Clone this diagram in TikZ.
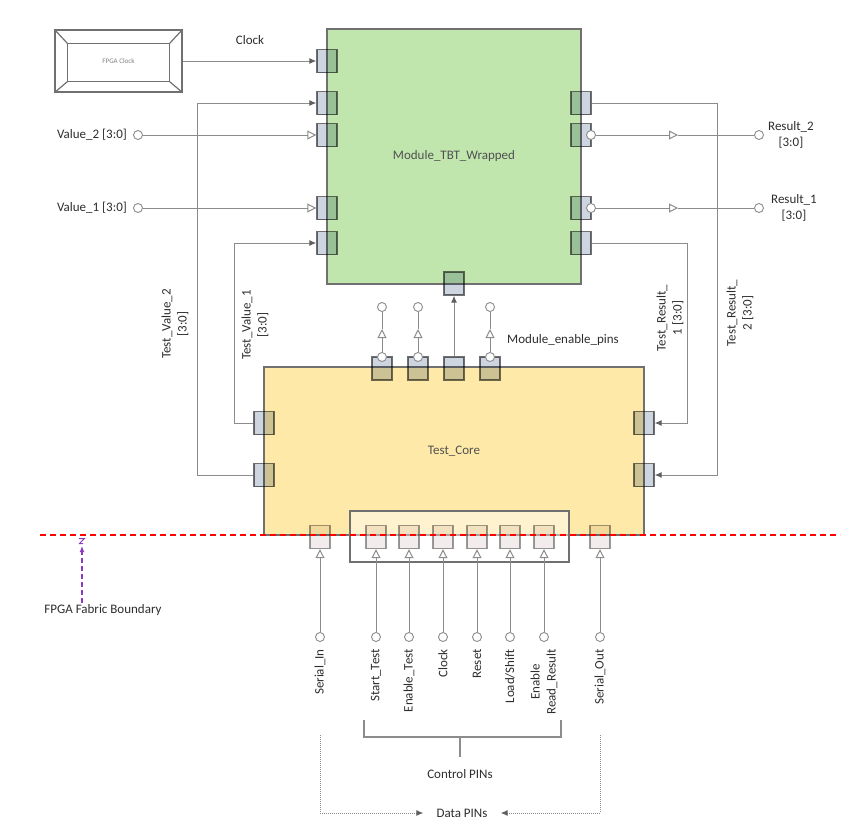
\documentclass[tikz,border=0pt]{standalone}
\usepackage{fontspec}
\setmainfont{Carlito}
\usetikzlibrary{arrows.meta,positioning}

\definecolor{tbtgreen}{RGB}{192,230,174}
\definecolor{coreyellow}{RGB}{255,233,168}
\definecolor{boxline}{RGB}{112,112,112}
\definecolor{wiregray}{RGB}{140,140,140}
\definecolor{tipgray}{RGB}{95,95,95}
\definecolor{labgray}{RGB}{45,45,45}
\definecolor{titlegray}{RGB}{80,80,80}
\definecolor{pinblue}{RGB}{205,213,224}
\definecolor{pinpale}{RGB}{242,237,236}
\definecolor{fabviolet}{RGB}{140,60,190}

\begin{document}
\begin{tikzpicture}[x=1pt,y=-1pt,>={Latex[length=7pt,width=6pt,color=tipgray]},
  block/.style={draw=boxline,line width=1.5pt,inner sep=0pt,
    font=\fontsize{13}{16}\selectfont,text=titlegray},
  pin/.style={draw=boxline,line width=1.4pt,fill=pinblue,
    minimum width=20pt,minimum height=23pt,inner sep=0pt},
  tpin/.style={pin,draw=boxline!70,fill=pinpale},
  port/.style={circle,draw=wiregray,fill=white,line width=0.9pt,
    minimum size=9pt,inner sep=0pt},
  wire/.style={draw=wiregray,line width=1pt},
  dotwire/.style={draw=wiregray,line width=1pt,dash pattern=on 1pt off 1pt},
  opentip/.style={-{Triangle[open,length=9pt,width=9pt]}},
  lab/.style={font=\fontsize{13}{16}\selectfont,text=labgray,
    align=center,inner sep=1pt}]
  \useasboundingbox (0,0) rectangle (866,835);

  % the wrapped module and the test core
  \node[block,fill=tbtgreen,minimum width=254pt,minimum height=255pt]
    (tbt) at (454,156.5) {Module\_TBT\_Wrapped};
  \node[block,fill=coreyellow,minimum width=380pt,minimum height=168pt]
    (core) at (454,451) {Test\_Core};
  % frame round the control pins
  \draw[boxline,line width=1.5pt,fill=white,fill opacity=0.45]
    (350,511) rectangle (569,562);

  % clock source
  \node[draw=boxline,line width=1.5pt,minimum width=127pt,minimum height=62pt,
    font=\fontsize{7}{8}\selectfont,text=gray] (fpgaclk) at (118.5,61) {FPGA Clock};
  \draw[boxline,line width=1.2pt] ([shift={(13,14)}]fpgaclk.north west)
    rectangle ([shift={(-13,-11)}]fpgaclk.south east);
  \draw[boxline,line width=1.2pt] (fpgaclk.north west) -- ++(13,14)
    (fpgaclk.north east) -- ++(-13,14)
    (fpgaclk.south west) -- ++(13,-11)
    (fpgaclk.south east) -- ++(-13,-11);

  % pins, multiplied onto the blocks underneath
  \begin{scope}[blend mode=multiply]
    \node[pin] (clkin) at (327,61) {};
    \node[pin] (tv2in) at (327,103) {};
    \node[pin] (v2in)  at (327,135) {};
    \node[pin] (v1in)  at (327,208) {};
    \node[pin] (tv1in) at (327,243) {};
    \node[pin] (tr2out) at (581,103) {};
    \node[pin] (r2out)  at (581,135) {};
    \node[pin] (r1out)  at (581,208) {};
    \node[pin] (tr1out) at (581,243) {};
    \node[pin] (enin) at (454,283.5) {};
    \node[pin] (tv1out) at (264,423) {};
    \node[pin] (tv2out) at (264,475) {};
    \node[pin] (tr1in) at (644,423) {};
    \node[pin] (tr2in) at (644,475) {};
    \node[pin] (en1) at (382,368.5) {};
    \node[pin] (en2) at (418,368.5) {};
    \node[pin] (en3) at (454,368.5) {};
    \node[pin] (en4) at (490,368.5) {};
    \foreach \x/\nm in {320/sin,376/c1,409/c2,443/c3,477/c4,510/c5,544/c6,600/sout}
      \node[tpin] (\nm) at (\x,537) {};
  \end{scope}

  % fabric boundary
  \draw[red,line width=2pt,dash pattern=on 6pt off 4pt] (40,535) -- (840,535);
  \node[lab] (fabric) at (103,610) {FPGA Fabric Boundary};
  \coordinate (fabtip) at (82,546);
  \draw[fabviolet,line width=1.2pt,dash pattern=on 5pt off 3pt,
    -{Latex[length=6pt,width=5pt]}] (fabric.north -| fabtip) -- (fabtip);
  \draw[fabviolet,line width=1pt] (79,538.5) -- (84.5,538.5) -- (79.5,543.5) -- (83,543.5);

  % clock and value inputs
  \node[lab] at (250,40) {Clock};
  \draw[wire,->] (fpgaclk.east) -- (clkin.west);
  \node[port] (v2p) at (138,135) {};
  \node[port] (v1p) at (138,208) {};
  \node[lab,left=5pt of v2p] {Value\_2 [3:0]};
  \node[lab,left=5pt of v1p] {Value\_1 [3:0]};
  \draw[wire,opentip] (v2p) -- (v2in.west);
  \draw[wire,opentip] (v1p) -- (v1in.west);

  % result outputs
  \node[port] (r2c) at (591,135) {};
  \node[port] (r1c) at (591,208) {};
  \coordinate (r2t) at (678,135);
  \coordinate (r1t) at (678,208);
  \node[port] (r2p) at (759,135) {};
  \node[port] (r1p) at (759,208) {};
  \draw[wire,opentip] (r2c) -- (r2t);
  \draw[wire] (r2t) -- (r2p);
  \draw[wire,opentip] (r1c) -- (r1t);
  \draw[wire] (r1t) -- (r1p);
  \node[lab,right=3pt of r2p] {Result\_2\\{}[3:0]};
  \node[lab,right=6pt of r1p] {Result\_1\\{}[3:0]};

  % test values into the module, test results back to the core
  \draw[wire,->] (tv2out.west) -- ++(-56,0) |- (tv2in.west);
  \draw[wire,->] (tv1out.west) -- ++(-19,0) |- (tv1in.west);
  \draw[wire,->] (tr1out.east) -- ++(96,0) |- (tr1in.east);
  \draw[wire,->] (tr2out.east) -- ++(126,0) |- (tr2in.east);
  \node[lab,rotate=90] at (175,324) {Test\_Value\_2\\{}[3:0]};
  \node[lab,rotate=90] at (255,325) {Test\_Value\_1\\{}[3:0]};
  \node[lab,rotate=90] at (670,318) {Test\_Result\_\\1 [3:0]};
  \node[lab,rotate=90] at (740,313) {Test\_Result\_\\2 [3:0]};

  % module enable pins
  \draw[wire,->] (en3.north) -- (enin.south);
  \foreach \i/\x in {1/382,2/418,4/490}{
    \node[port] (en\i c) at (\x,357) {};
    \node[port] (en\i o) at (\x,307) {};
    \coordinate (en\i t) at (\x,329);
    \draw[wire,opentip] (en\i c) -- (en\i t);
    \draw[wire] (en\i t) -- (en\i o);
  }
  \node[lab] (enlab) at (563,340) {Module\_enable\_pins};

  % pins on the package edge
  \foreach \x/\nm/\txt in {320/sin/Serial\_In,376/c1/Start\_Test,
      409/c2/Enable\_Test,443/c3/Clock,477/c4/Reset,510/c5/{Load/Shift},
      544/c6/{Enable\\Read\_Result},600/sout/Serial\_Out}{
    \node[port] (p\nm) at (\x,637) {};
    \draw[wire,opentip] (p\nm) -- (\nm.south);
    \node[lab,rotate=90,anchor=east] at (\x,648) {\txt};
  }

  % control and data groups
  \node[lab] (ctrl) at (460,774) {Control PINs};
  \draw[wire,line width=1.2pt] (364,720) |- (561,737) -- (561,720);
  \draw[wire,line width=1.2pt] (460,737) -- (460,757);
  \node[lab] (data) at (462,813) {Data PINs};
  \draw[dotwire,->] (320,735) |- ([xshift=-12pt]data.west);
  \draw[dotwire,->] (600,735) |- ([xshift=12pt]data.east);
\end{tikzpicture}
\end{document}
